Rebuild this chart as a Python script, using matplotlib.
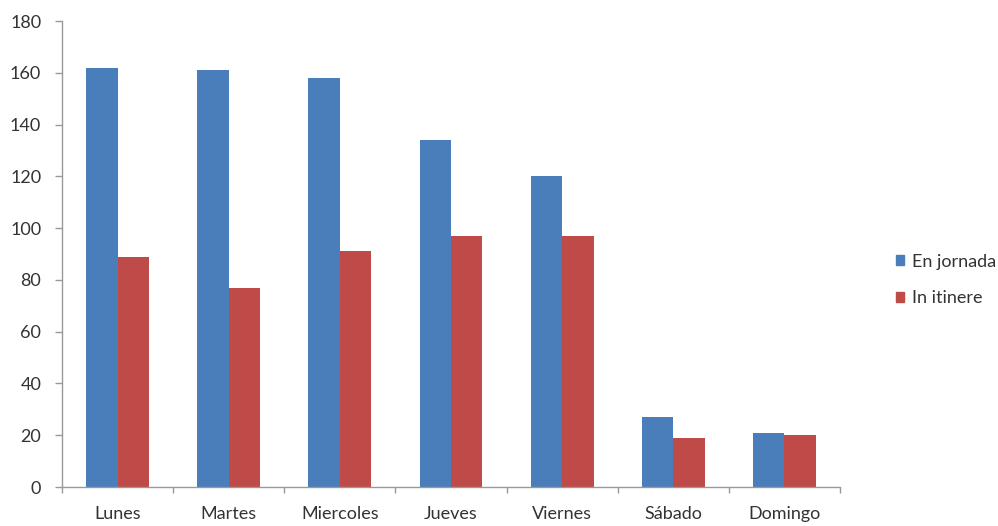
import matplotlib
matplotlib.use("Agg")
import matplotlib.pyplot as plt
import numpy as np
from matplotlib.patches import Patch

dias = ["Lunes", "Martes", "Miercoles", "Jueves", "Viernes", "Sábado", "Domingo"]
en_jornada = [162, 161, 158, 134, 120, 27, 21]
in_itinere = [89, 77, 91, 97, 97, 19, 20]
y_ticks = [0, 20, 40, 60, 80, 100, 120, 140, 160, 180]

plt.rcParams["font.family"] = ["Lato", "DejaVu Sans"]

fig = plt.figure(figsize=(9.98, 5.26), dpi=100)
ax = fig.add_axes([62 / 998, 1 - 487 / 526, (840 - 62) / 998, (487 - 21) / 526])

azul = "#4A7EBB"
rojo = "#BE4B48"
x = np.arange(len(dias))
w = 0.283
ax.bar(x - w / 2, en_jornada, width=w, color=azul, label="En jornada")
ax.bar(x + w / 2, in_itinere, width=w, color=rojo, label="In itinere")

ax.set_xlim(-0.5, len(dias) - 0.5)
ax.set_ylim(0, 180)
ax.set_yticks(y_ticks)
ax.set_xticks(x)
ax.set_xticklabels(dias)
ax.set_xticks(np.arange(-0.5, len(dias)), minor=True)
ax.tick_params(axis="x", which="major", length=0, pad=14, labelsize=13, colors="#333333")
ax.tick_params(axis="x", which="minor", length=4, color="#999999", width=1)
ax.tick_params(axis="y", length=5, color="#999999", width=1, pad=10, labelsize=13, labelcolor="#333333")

for s in ["top", "right"]:
    ax.spines[s].set_visible(False)
for s in ["left", "bottom"]:
    ax.spines[s].set_color("#999999")
    ax.spines[s].set_linewidth(1)

handles = [Patch(color=azul, label="En jornada"), Patch(color=rojo, label="In itinere")]
fig.legend(handles=handles, loc="center left", bbox_to_anchor=(887 / 998, 1 - 280 / 526),
           frameon=False, fontsize=13, handlelength=0.45, handleheight=0.45, borderpad=0,
           handletextpad=0.45, labelspacing=1.15, labelcolor="#333333")

fig.savefig("out.png", dpi=100)
